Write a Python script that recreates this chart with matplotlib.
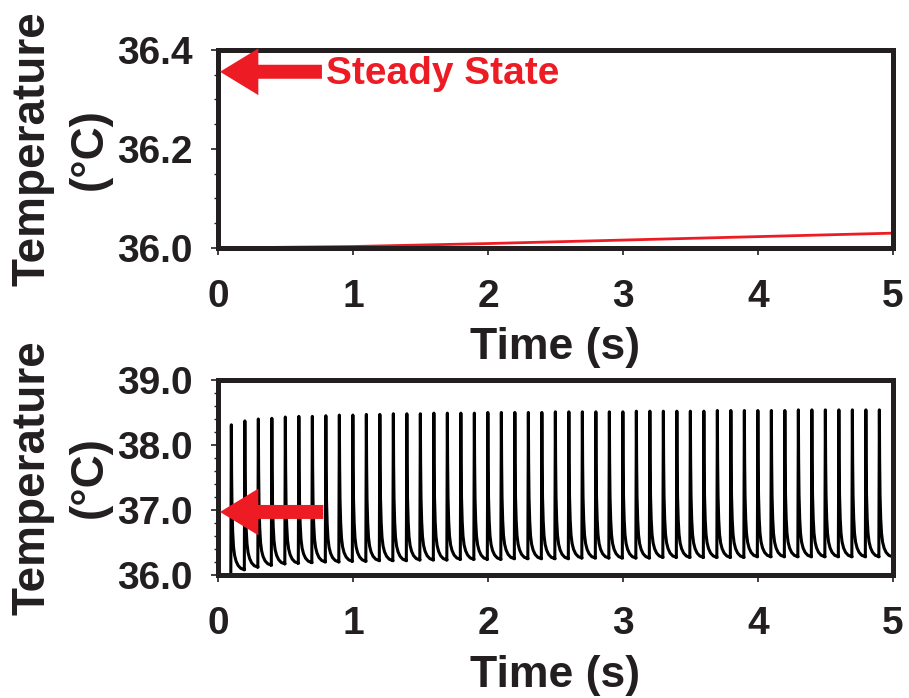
import numpy as np
import matplotlib
matplotlib.use("Agg")
import matplotlib.pyplot as plt
from matplotlib.ticker import MultipleLocator, FormatStrFormatter

# top panel: steady state (red line)
steady_t = [0, 1, 2, 3, 4, 5]
steady_temp = [36.000, 36.003, 36.009, 36.016, 36.023, 36.030]

# bottom panel: pulsed heating, one spike per pulse
pulse_times = [0.095 + 0.1 * k for k in range(49)]
peak_temps = [38.31, 38.37, 38.40, 38.41, 38.43, 38.44, 38.44, 38.45, 38.46, 38.46,
              38.47, 38.47, 38.48, 38.48, 38.48, 38.49, 38.49, 38.49, 38.49, 38.50,
              38.50, 38.50, 38.50, 38.50, 38.51, 38.51, 38.51, 38.51, 38.51, 38.51,
              38.52, 38.52, 38.52, 38.52, 38.52, 38.52, 38.53, 38.53, 38.53, 38.53,
              38.53, 38.53, 38.54, 38.54, 38.54, 38.54, 38.54, 38.54, 38.54]
trough_temps = [36.08, 36.12, 36.15, 36.17, 36.18, 36.19, 36.20, 36.20, 36.21, 36.21,
                36.22, 36.22, 36.22, 36.23, 36.23, 36.23, 36.24, 36.24, 36.24, 36.24,
                36.25, 36.25, 36.25, 36.25, 36.25, 36.26, 36.26, 36.26, 36.26, 36.26,
                36.26, 36.27, 36.27, 36.27, 36.27, 36.27, 36.27, 36.27, 36.28, 36.28,
                36.28, 36.28, 36.28, 36.28, 36.28, 36.28, 36.28, 36.28, 36.28]
# decay of one spike: time after pulse (s) and fraction of the rise left
decay_dt = [0.0, 0.002, 0.005, 0.010, 0.016, 0.024, 0.035, 0.050, 0.070, 0.098]
decay_frac = [1.0, 0.66, 0.42, 0.26, 0.16, 0.10, 0.06, 0.03, 0.01, 0.0]

red = "#ED1C24"
dark = "#231F20"

plt.rcParams['font.family'] = ['Liberation Sans', 'DejaVu Sans']
plt.rcParams['font.weight'] = 'bold'

fig = plt.figure(figsize=(9.09, 6.98), dpi=100)
ax1 = fig.add_axes([0.2398, 0.6447, 0.7426, 0.2837])
ax2 = fig.add_axes([0.2398, 0.1762, 0.7426, 0.2794])

# build the pulse trace from the read values
t_pulse = [0.0]
T_pulse = [36.0]
for i, t0 in enumerate(pulse_times):
    base = T_pulse[-1]
    t_pulse += [t0]
    T_pulse += [base]
    for dt, f in zip(decay_dt, decay_frac):
        t_pulse.append(t0 + 0.004 + dt)
        T_pulse.append(trough_temps[i] + f * (peak_temps[i] - trough_temps[i]))
t_pulse.append(5.0)
T_pulse.append(trough_temps[-1])

ax1.plot(steady_t, steady_temp, color=red, lw=2)
ax2.plot(t_pulse, T_pulse, color="black", lw=2.2)

ax1.set_ylim(36.0, 36.4)
ax2.set_ylim(36.0, 39.0)
ax1.yaxis.set_major_locator(MultipleLocator(0.2))
ax1.yaxis.set_minor_locator(MultipleLocator(0.05))
ax2.yaxis.set_major_locator(MultipleLocator(1.0))
ax2.yaxis.set_minor_locator(MultipleLocator(0.2))

for ax, xlab_y in ((ax1, -0.399), (ax2, -0.41)):
    ax.set_xlim(0, 5)
    ax.xaxis.set_major_locator(MultipleLocator(1))
    ax.yaxis.set_major_formatter(FormatStrFormatter('%.1f'))
    for s in ax.spines.values():
        s.set_linewidth(3.6)
        s.set_color(dark)
    ax.tick_params(which='major', direction='out', length=5, width=1.2,
                   labelsize=28, colors=dark)
    ax.tick_params(axis='x', which='major', pad=17)
    ax.tick_params(axis='y', which='major', pad=13)
    ax.tick_params(which='minor', direction='out', length=3, width=1, colors=dark)
    ax.set_xlabel("Time (s)", fontsize=32, fontweight='bold', color=dark)
    ax.set_ylabel("Temperature\n(°C)", fontsize=33, fontweight='bold', color=dark,
                  linespacing=1.4)
    ax.xaxis.set_label_coords(0.5, xlab_y)
    ax.yaxis.set_label_coords(-0.157, 0.5)

# arrows
arrow_style = 'simple,head_length=1.15,head_width=1.4,tail_width=0.42'
ax1.annotate('', xy=(0.015, 36.356), xytext=(0.77, 36.356),
             arrowprops=dict(arrowstyle=arrow_style, color=red, lw=0,
                             shrinkA=0, shrinkB=0, mutation_scale=24))
ax1.text(0.8, 36.352, "Steady State", color=red, fontsize=28, fontweight='bold',
         va='center', ha='left')
ax2.annotate('', xy=(0.015, 36.97), xytext=(0.78, 36.97),
             arrowprops=dict(arrowstyle=arrow_style, color=red, lw=0,
                             shrinkA=0, shrinkB=0, mutation_scale=24))

fig.savefig("out.png", dpi=100)
